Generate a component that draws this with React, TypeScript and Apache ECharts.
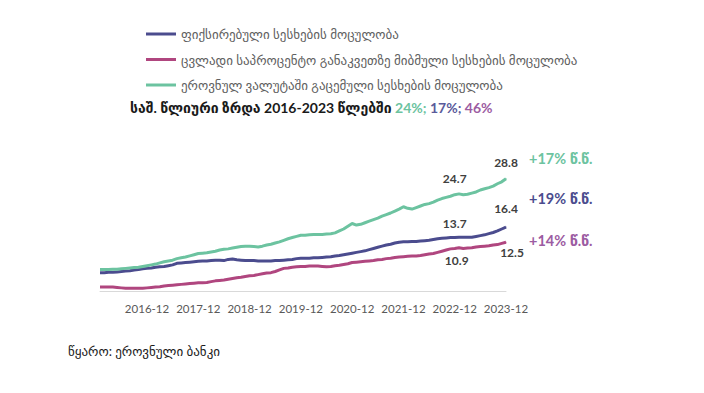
import React, { useEffect, useRef } from "react";
import * as echarts from "echarts";

const years = [2016, 2017, 2018, 2019, 2020, 2021, 2022, 2023];
const months = years.flatMap((y) =>
  Array.from({ length: 12 }, (_, m) => `${y}-${String(m + 1).padStart(2, "0")}`)
);

const fixedRate = [
  4.7, 4.7, 4.8, 4.8, 4.9, 5.0, 5.1, 5.2, 5.4, 5.5, 5.7, 5.8,
  5.9, 6.1, 6.2, 6.3, 6.5, 6.7, 7.1, 7.2, 7.3, 7.4, 7.5, 7.6,
  7.7, 7.7, 7.8, 7.9, 7.9, 7.8, 8.1, 8.2, 8.0, 7.9, 7.8, 7.8,
  7.8, 7.7, 7.7, 7.7, 7.7, 7.8, 7.8, 7.9, 8.0, 8.1, 8.3, 8.4,
  8.4, 8.4, 8.5, 8.5, 8.6, 8.7, 8.8, 9.0, 9.1, 9.3, 9.5, 9.7,
  9.9, 10.1, 10.3, 10.6, 10.9, 11.2, 11.5, 11.8, 12.0, 12.3, 12.5, 12.6,
  12.6, 12.7, 12.7, 12.8, 12.9, 13.0, 13.2, 13.4, 13.5, 13.6, 13.7, 13.7,
  13.8, 13.8, 13.8, 13.8, 14.0, 14.2, 14.4, 14.7, 15.0, 15.4, 15.9, 16.4,
];

const floatingRate = [
  1.0, 1.0, 1.0, 1.0, 0.9, 0.8, 0.7, 0.7, 0.7, 0.7, 0.7, 0.8,
  0.9, 1.0, 1.1, 1.3, 1.4, 1.5, 1.6, 1.7, 1.8, 1.9, 2.0, 2.1,
  2.1, 2.2, 2.4, 2.6, 2.7, 2.8, 3.0, 3.2, 3.4, 3.5, 3.7, 3.9,
  4.0, 4.2, 4.4, 4.6, 4.7, 5.0, 5.4, 5.8, 5.9, 6.1, 6.2, 6.3,
  6.3, 6.4, 6.4, 6.4, 6.3, 6.2, 6.3, 6.5, 6.6, 6.8, 7.0, 7.3,
  7.4, 7.5, 7.6, 7.7, 7.8, 8.0, 8.1, 8.3, 8.4, 8.6, 8.7, 8.8,
  8.9, 9.0, 9.0, 9.1, 9.3, 9.5, 9.6, 9.9, 10.2, 10.5, 10.8, 10.9,
  11.1, 10.9, 11.0, 11.1, 11.3, 11.4, 11.5, 11.6, 11.8, 11.9, 12.2, 12.5,
];

const nationalCurrency = [
  5.5, 5.5, 5.5, 5.6, 5.6, 5.7, 5.8, 5.9, 6.0, 6.1, 6.3, 6.5,
  6.7, 6.9, 7.2, 7.5, 7.7, 7.9, 8.3, 8.5, 8.7, 9.0, 9.3, 9.6,
  9.7, 9.8, 10.0, 10.2, 10.5, 10.7, 10.8, 11.0, 11.2, 11.4, 11.5, 11.5,
  11.4, 11.3, 11.5, 11.8, 12.0, 12.3, 12.6, 13.0, 13.4, 13.7, 14.0, 14.3,
  14.3, 14.4, 14.5, 14.5, 14.5, 14.6, 14.7, 14.9, 15.4, 15.9, 16.6, 17.3,
  16.9, 17.1, 17.5, 17.9, 18.3, 18.7, 19.2, 19.6, 20.0, 20.5, 21.0, 21.6,
  21.2, 21.0, 21.4, 21.8, 22.2, 22.4, 22.8, 23.3, 23.7, 24.0, 24.3, 24.7,
  24.9, 24.7, 24.8, 25.1, 25.4, 25.9, 26.2, 26.5, 26.9, 27.5, 28.0, 28.8,
];

const seriesNames = [
  "ფიქსირებული სესხების მოცულობა",
  "ცვლადი საპროცენტო განაკვეთზე მიბმული სესხების მოცულობა",
  "ეროვნულ ვალუტაში გაცემული სესხების მოცულობა",
];
const growthLabels = ["+17% წ.წ.", "+19% წ.წ.", "+14% წ.წ."];
const cagr = ["24%", "17%", "46%"];
const labelIdx = [83, 95];

const GREEN = "#6cc3a0";
const NAVY = "#4b4c8e";
const PINK = "#b0467f";
const MAUVE = "#9c5ca2";
const FONT = "Lato, 'DejaVu Sans', sans-serif";

function withLabels(vals: number[], color: string, positions: string[], offsets: number[][]) {
  return vals.map((v, i) => {
    const k = labelIdx.indexOf(i);
    if (k < 0) return v;
    return {
      value: v,
      symbol: "circle",
      symbolSize: 1,
      itemStyle: { color },
      label: {
        show: true,
        position: positions[k],
        distance: 6,
        offset: offsets[k],
        fontFamily: FONT,
        fontWeight: "bold",
        fontSize: 12,
        color: "#404040",
        formatter: (p: any) => Number(p.value).toFixed(1),
      },
    };
  });
}

export default function App() {
  const ref = useRef<HTMLDivElement>(null);
  useEffect(() => {
    if (!ref.current) return;
    const chart = echarts.init(ref.current, undefined, { renderer: "svg" });
    const lineSeries = (name: string, color: string, data: any[]) => ({
      name,
      type: "line",
      data,
      symbol: "none",
      showSymbol: true,
      lineStyle: { color, width: 3 },
      itemStyle: { color },
      z: 3,
    });
    chart.setOption({
      animation: false,
      backgroundColor: "#ffffff",
      textStyle: { fontFamily: FONT },
      legend: {
        orient: "vertical",
        left: 141,
        top: 21,
        itemGap: 9.5,
        itemWidth: 30,
        itemHeight: 3,
        icon: "rect",
        data: seriesNames,
        textStyle: { fontFamily: FONT, fontSize: 13, lineHeight: 16, color: "#606060" },
        selectedMode: false,
      },
      grid: { left: 100, right: 198, top: 174, bottom: 102 },
      xAxis: {
        type: "category",
        data: months,
        boundaryGap: false,
        axisLine: { lineStyle: { color: "#d9d9d9", width: 1 } },
        axisTick: { show: false },
        axisLabel: {
          interval: (i: number) => i % 12 === 11,
          color: "#595959",
          fontSize: 11.5,
          fontFamily: FONT,
          margin: 11,
        },
        splitLine: { show: false },
      },
      yAxis: {
        type: "value",
        min: 0,
        max: 30,
        show: false,
        splitLine: { show: false },
      },
      series: [
        lineSeries(seriesNames[0], NAVY, withLabels(fixedRate, NAVY, ["top", "top"], [[0, -2], [0, -6]])),
        lineSeries(seriesNames[1], PINK, withLabels(floatingRate, PINK, ["bottom", "bottom"], [[2, 0], [6, -2]])),
        lineSeries(seriesNames[2], GREEN, withLabels(nationalCurrency, GREEN, ["top", "top"], [[0, -4], [0, -4]])),
      ],
      graphic: [
        {
          type: "text",
          left: 130,
          top: 100,
          style: {
            text: `{b|საშ. წლიური ზრდა 2016-2023 წლებში }{g|${cagr[0]}; }{n|${cagr[1]}; }{m|${cagr[2]}}`,
            rich: {
              b: { fontFamily: FONT, fontWeight: "bold", fontSize: 14, fill: "#1a1a1a" },
              g: { fontFamily: FONT, fontWeight: "bold", fontSize: 14, fill: GREEN },
              n: { fontFamily: FONT, fontWeight: "bold", fontSize: 14, fill: "#5a5b9b" },
              m: { fontFamily: FONT, fontWeight: "bold", fontSize: 14, fill: MAUVE },
            },
          },
        },
        {
          type: "text",
          left: 529,
          top: 151,
          style: { text: growthLabels[0], fontFamily: FONT, fontWeight: "bold", fontSize: 14.5, fill: GREEN },
        },
        {
          type: "text",
          left: 529,
          top: 191,
          style: { text: growthLabels[1], fontFamily: FONT, fontWeight: "bold", fontSize: 14.5, fill: NAVY },
        },
        {
          type: "text",
          left: 529,
          top: 233,
          style: { text: growthLabels[2], fontFamily: FONT, fontWeight: "bold", fontSize: 14.5, fill: MAUVE },
        },
        {
          type: "text",
          left: 68,
          top: 344,
          style: { text: "წყარო: ეროვნული ბანკი", fontFamily: FONT, fontSize: 13, fill: "#1a1a1a" },
        },
      ],
    });
    return () => chart.dispose();
  }, []);
  return <div ref={ref} style={{ width: 704, height: 393, position: "absolute", left: 0, top: 0 }} />;
}
